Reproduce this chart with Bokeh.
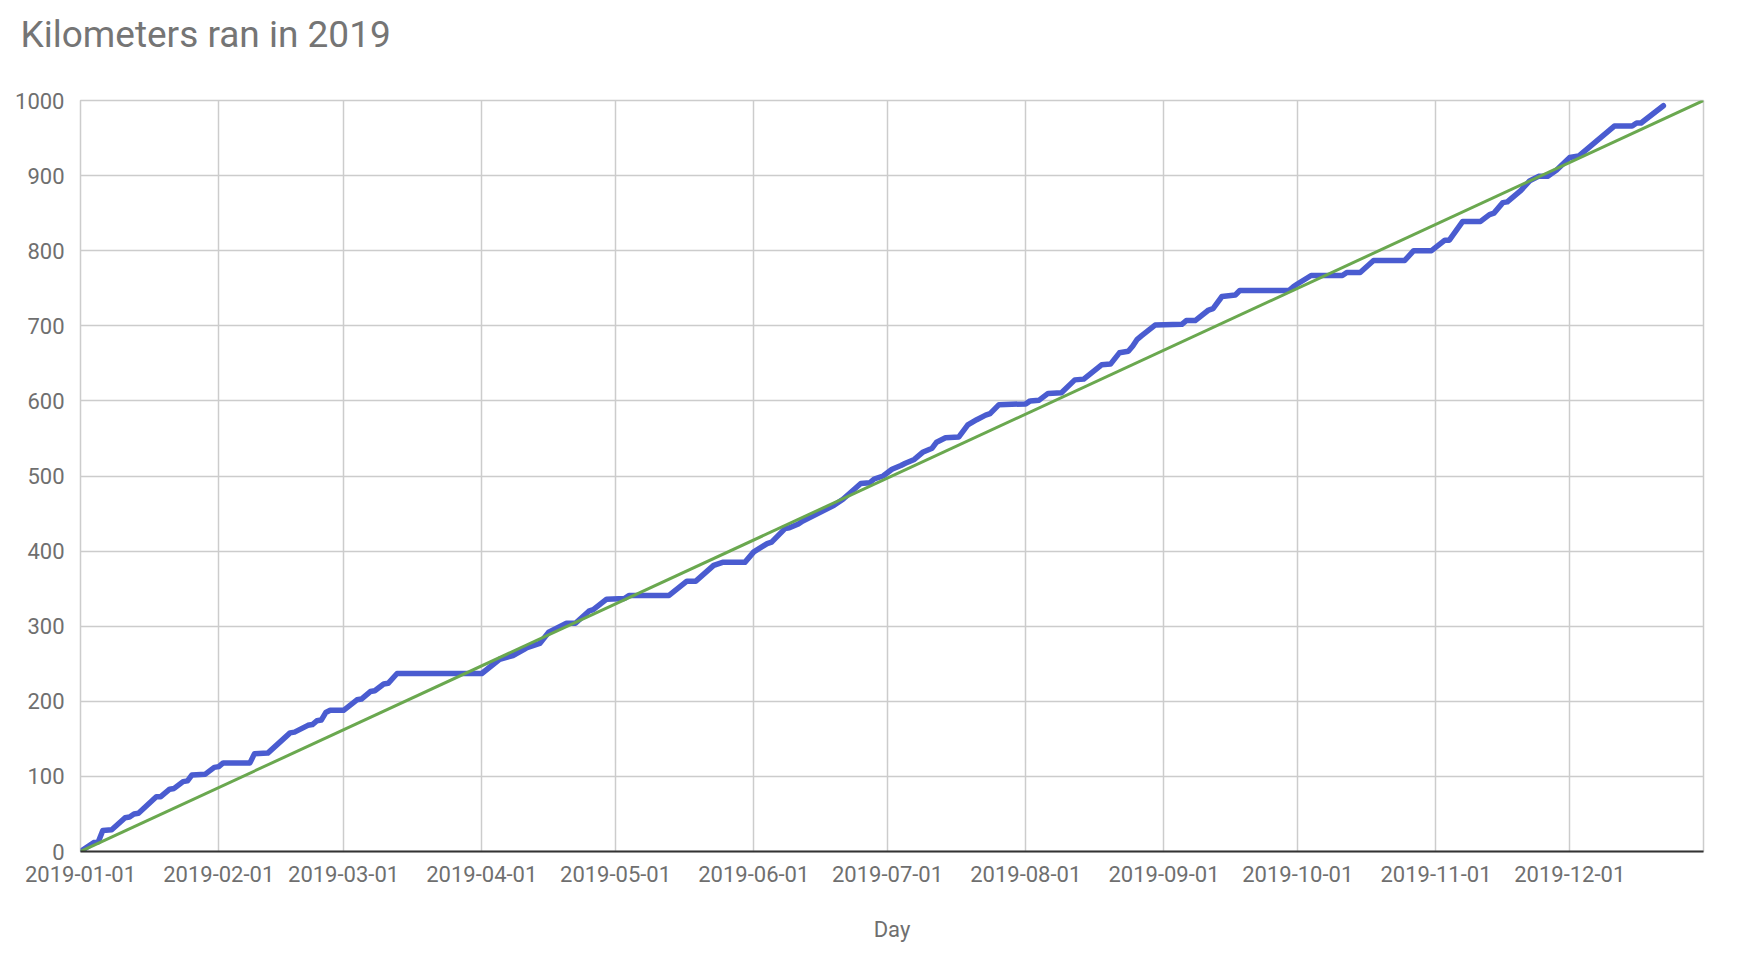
import datetime as dt
from bokeh.plotting import figure
from bokeh.layouts import column
from bokeh.models import Range1d, FixedTicker, DatetimeTickFormatter, ColumnDataSource
from bokeh.core.properties import value
from bokeh.embed import file_html
from bokeh.resources import INLINE

# ---- data ----
start_date = "2019-01-01"
# day offsets from 2019-01-01 and cumulative kilometers at those days
day_index = [0, 3, 4, 5, 7, 10, 11, 12, 13, 17, 18, 20, 21, 23, 24, 25, 28, 30, 31, 32,
             38, 39, 42, 47, 48, 51, 52, 53, 54, 55, 56, 59, 62, 63, 65, 66, 68, 69, 71, 90,
             94, 97, 100, 103, 105, 106, 109, 111, 114, 115, 118, 122, 123, 132, 136, 138, 142, 144, 149, 151,
             154, 155, 158, 159, 161, 162, 165, 167, 169, 171, 175, 177, 178, 180, 182, 184, 185, 187, 189, 191,
             192, 194, 197, 199, 201, 203, 204, 206, 212, 213, 215, 217, 220, 223, 225, 229, 231, 233, 235, 236,
             237, 238, 241, 247, 248, 250, 253, 254, 256, 259, 260, 271, 272, 273, 276, 283, 284, 287, 290, 297,
             299, 303, 306, 307, 310, 314, 316, 317, 319, 320, 323, 325, 327, 329, 331, 334, 336, 344, 348, 349,
             350, 355]
km_total = [0, 12, 13, 28, 29, 45, 46, 50, 51, 73, 73, 83, 84, 93, 94, 102, 103, 112, 113, 118,
            118, 130, 131, 158, 159, 168, 169, 174, 175, 185, 188, 188, 202, 203, 213, 214, 223, 224, 237, 237,
            256, 261, 271, 277, 292, 295, 304, 304, 320, 322, 336, 337, 341, 341, 360, 360, 381, 385, 385, 399,
            410, 412, 430, 431, 436, 440, 449, 455, 461, 469, 490, 491, 496, 500, 509, 514, 517, 522, 532, 537,
            545, 551, 552, 568, 575, 581, 583, 595, 596, 600, 601, 610, 611, 628, 629, 648, 649, 664, 666, 673,
            682, 687, 701, 702, 707, 707, 721, 723, 739, 741, 747, 747, 752, 756, 767, 767, 771, 771, 787, 787,
            800, 800, 814, 814, 839, 839, 848, 850, 864, 865, 880, 893, 899, 899, 907, 924, 926, 966, 966, 970,
            970, 993]

goal_dates = ["2019-01-01", "2019-12-31"]
goal_km = [0, 1000]

tick_dates = ["2019-01-01", "2019-02-01", "2019-03-01", "2019-04-01", "2019-05-01", "2019-06-01",
              "2019-07-01", "2019-08-01", "2019-09-01", "2019-10-01", "2019-11-01", "2019-12-01"]
y_ticks = [0, 100, 200, 300, 400, 500, 600, 700, 800, 900, 1000]

title_text = "Kilometers ran in 2019"
x_label = "Day"

# ---- build ----
base = dt.datetime.strptime(start_date, "%Y-%m-%d")
run_dates = [base + dt.timedelta(days=d) for d in day_index]
goal_dt = [dt.datetime.strptime(s, "%Y-%m-%d") for s in goal_dates]
tick_ms = [dt.datetime.strptime(s, "%Y-%m-%d").replace(tzinfo=dt.timezone.utc).timestamp() * 1000
           for s in tick_dates]

FONT = "Roboto"
TXT = "#6f6f6f"
W = 1738
HEAD_H = 60

# header strip carrying the chart title
head = figure(width=W, height=HEAD_H, output_backend="svg", toolbar_location=None,
              x_range=Range1d(0, W), y_range=Range1d(HEAD_H, 0),
              x_axis_location=None, y_axis_location=None, min_border=0)
head.frame_align = False
head.outline_line_color = None
head.xgrid.visible = False
head.ygrid.visible = False
head.text(x=[20], y=[34], text=[title_text], text_font=value(FONT), text_font_size="37px",
          text_color="#757575", text_baseline="middle", text_align="left")

p = figure(width=W, height=961 - HEAD_H, x_axis_type="datetime",
           output_backend="svg", toolbar_location=None,
           x_range=Range1d(goal_dt[0], goal_dt[1]), y_range=Range1d(0, 1000),
           min_border_left=80, min_border_right=35, min_border_top=100 - HEAD_H, min_border_bottom=110)
p.frame_align = False

blue_src = ColumnDataSource(dict(x=run_dates, y=km_total))
green_src = ColumnDataSource(dict(x=goal_dt, y=goal_km))
p.line("x", "y", source=blue_src, line_color="#4A5CD0", line_width=5.5, line_join="round", line_cap="round")
p.line("x", "y", source=green_src, line_color="#6AA84F", line_width=3)

xt = FixedTicker(ticks=tick_ms)
p.xaxis.ticker = xt
p.xgrid.ticker = xt
fmt = "%Y-%m-%d"
p.xaxis.formatter = DatetimeTickFormatter(milliseconds=fmt, seconds=fmt, minsec=fmt, minutes=fmt,
                                          hourmin=fmt, hours=fmt, days=fmt, months=fmt, years=fmt)
p.yaxis.ticker = FixedTicker(ticks=y_ticks)
p.ygrid.ticker = FixedTicker(ticks=y_ticks)

for g in (p.xgrid, p.ygrid):
    g.grid_line_color = "#cccccc"
    g.grid_line_width = 1.5

p.outline_line_color = "#cccccc"
p.outline_line_width = 1.5

p.xaxis.axis_line_color = "#333333"
p.xaxis.axis_line_width = 2
p.yaxis.axis_line_color = None
for ax in (p.xaxis, p.yaxis):
    ax.major_tick_line_color = None
    ax.minor_tick_line_color = None
    ax.major_label_text_font = FONT
    ax.major_label_text_font_size = "22px"
    ax.major_label_text_color = TXT
p.xaxis.major_label_standoff = 8
p.yaxis.major_label_standoff = 10

p.xaxis.axis_label = x_label
p.xaxis.axis_label_text_font = FONT
p.xaxis.axis_label_text_font_size = "22px"
p.xaxis.axis_label_text_font_style = "normal"
p.xaxis.axis_label_text_color = TXT
p.xaxis.axis_label_standoff = 32

layout = column(head, p, spacing=0)
open("out.html", "w").write(file_html(layout, INLINE))
